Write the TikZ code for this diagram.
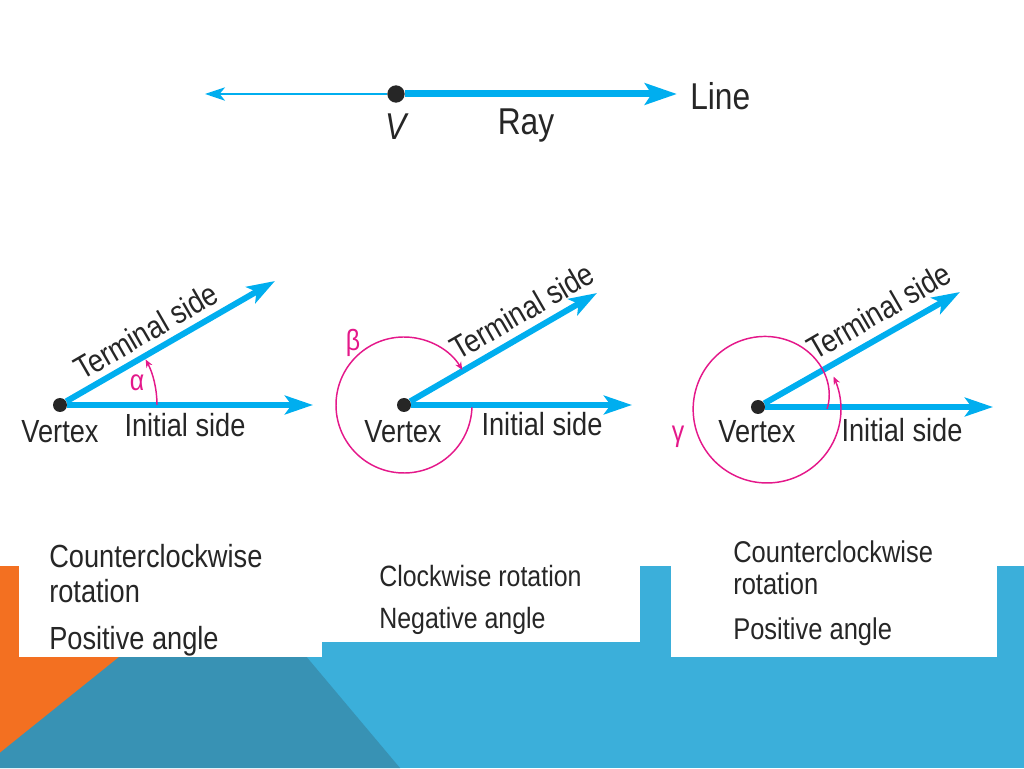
\documentclass[tikz,border=0pt]{standalone}
\usepackage{fontspec}
\setmainfont{Liberation Sans}[FakeStretch=0.85]
\usepackage{tikz}
\usetikzlibrary{arrows.meta,calc,positioning}
\definecolor{raycol}{RGB}{0,174,239}
\definecolor{angcol}{RGB}{228,24,138}
\definecolor{txtcol}{RGB}{38,38,38}
\definecolor{orangebg}{RGB}{243,112,33}
\definecolor{bluebg}{RGB}{59,175,218}
\definecolor{tealbg}{RGB}{56,146,180}

\begin{document}
\begin{tikzpicture}[x=0.75pt, y=0.75pt,
    side/.style={draw=raycol, line width=4.5pt, -{Stealth[length=21pt,width=14pt,inset=5pt]}},
    angmark/.style={draw=angcol, line width=1.1pt, -{Stealth[length=6pt,width=5pt]}},
    dot/.style={circle, fill=black!85, inner sep=0pt, minimum size=10.5pt},
    lab/.style={text=txtcol, inner sep=0pt, font=\fontsize{24}{28}\selectfont},
    greek/.style={text=angcol, inner sep=0pt, font=\fontsize{22}{26}\selectfont},
    boxtxt/.style={text=txtcol, inner sep=0pt, anchor=base west}]
  \useasboundingbox (0,0) rectangle (1024,768);
  % background
  \fill[orangebg] (0,0) rectangle (231,202);
  \fill[bluebg] (231,0) rectangle (1024,202);
  \fill[tealbg] (-19,0) -- (231,201) -- (400,0) -- cycle;
  \fill[white] (19,111) rectangle (322,250);
  \fill[white] (322,126) rectangle (640,250);
  \fill[white] (671,111) rectangle (997,250);

  % Line and ray
  \node[dot, minimum size=13pt] (v) at (396,674) {};
  \coordinate (lineend) at (205,674);
  \coordinate (rayend) at (677,674);
  \draw[draw=raycol, line width=1.5pt, -{Stealth[length=15pt,width=10pt,inset=4pt]}] (v) -- (lineend);
  \draw[draw=raycol, line width=5.25pt, -{Stealth[length=24pt,width=16pt,inset=5pt]}] (v) -- (rayend);
  \node[lab, font=\fontsize{28}{32}\selectfont, anchor=west] (linelab) at (690,672) {Line};
  \node[lab, font=\fontsize{28}{32}\selectfont\itshape] (vlab) at (396,641) {V};
  \node[lab, font=\fontsize{28}{32}\selectfont] (raylab) at (526,642) {Ray};

  % Angle 1
  \node[dot] (v1) at (60,363) {};
  \coordinate (i1) at (313,363);
  \coordinate (t1) at (275,487);
  \draw[side] (v1) -- (i1);
  \draw[side] (v1) -- (t1);
  \draw[angmark] ($(v1)+(0:97)$) arc[start angle=0, end angle=28, radius=97];
  \node[lab] (vx1) at (60,336) {Vertex};
  \node[lab] (in1) at (185,343) {Initial side};
  \node[lab, rotate=30] (te1) at (146,437) {Terminal side};
  \node[greek] (alpha) at (137,385) {α};

  % Angle 2
  \node[dot] (v2) at (404,363) {};
  \coordinate (i2) at (632,363);
  \coordinate (t2) at (597,475);
  \draw[side] (v2) -- (i2);
  \draw[side] (v2) -- (t2);
  \draw[angmark] ($(v2)+(-2:68)$) arc[start angle=-2, end angle=-329, radius=68];
  \node[lab] (vx2) at (403,336) {Vertex};
  \node[lab] (in2) at (542,344) {Initial side};
  \node[lab, rotate=30] (te2) at (522,457) {Terminal side};
  \node[greek] (beta) at (353,425) {β};

  % Angle 3
  \node[dot] (v3) at (758,361) {};
  \coordinate (i3) at (993,361);
  \coordinate (t3) at (960,476);
  \coordinate (c3) at (767,359);
  \draw[side] (v3) -- (i3);
  \draw[side] (v3) -- (t3);
  \draw[angmark, shift={(c3)}] plot[domain=0:386, samples=140, smooth] (\x:{74-14*exp(-\x/40)});
  \node[lab] (vx3) at (757,336) {Vertex};
  \node[lab] (in3) at (902,338) {Initial side};
  \node[lab, rotate=30] (te3) at (879,457) {Terminal side};
  \node[greek] (gamma) at (678,331) {γ};

  % captions
  \node[boxtxt, font=\fontsize{24}{28}\selectfont] (c1a) at (49,201) {Counterclockwise};
  \node[boxtxt, font=\fontsize{24}{28}\selectfont] (c1b) at (49,166) {rotation};
  \node[boxtxt, font=\fontsize{24}{28}\selectfont] (c1c) at (49,119) {Positive angle};
  \node[boxtxt, font=\fontsize{22}{26}\selectfont] (c2a) at (379,182) {Clockwise rotation};
  \node[boxtxt, font=\fontsize{22}{26}\selectfont] (c2b) at (379,140) {Negative angle};
  \node[boxtxt, font=\fontsize{22.5}{26}\selectfont] (c3a) at (733,206) {Counterclockwise};
  \node[boxtxt, font=\fontsize{22.5}{26}\selectfont] (c3b) at (733,174) {rotation};
  \node[boxtxt, font=\fontsize{22.5}{26}\selectfont] (c3c) at (733,129) {Positive angle};
\end{tikzpicture}
\end{document}
